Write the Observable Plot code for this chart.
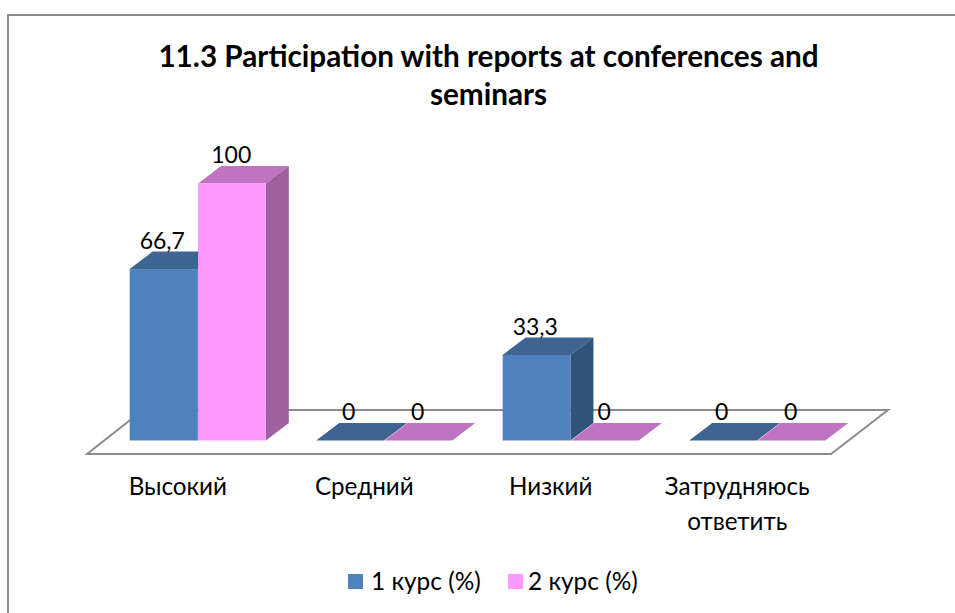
<!DOCTYPE html>
<html lang="ru">
<head>
<meta charset="utf-8">
<script src="https://cdn.jsdelivr.net/npm/d3@7"></script>
<script src="https://cdn.jsdelivr.net/npm/@observablehq/plot@0.6"></script>
<style>
  html, body { margin: 0; padding: 0; background: #fff; width: 955px; height: 613px; overflow: hidden; font-family: Lato, "Open Sans", sans-serif; color: #000; }
  #frame { position: absolute; left: 7px; top: 14px; width: 948px; height: 599px; border-left: 2px solid #8c8c8c; border-top: 2px solid #8c8c8c; box-sizing: border-box; }
  #title { position: absolute; left: 0; top: 37px; width: 977px; text-align: center; font-weight: 700; font-size: 29.7px; line-height: 38px; }
  #chart { position: absolute; left: 0; top: 115px; }
  #legend { position: absolute; left: 0; top: 566px; width: 955px; font-size: 24.4px; line-height: 30px; }
  .item { position: absolute; top: 0; white-space: nowrap; }
  .swatch { position: absolute; top: 8px; width: 15px; height: 15px; }
</style>
</head>
<body>
<div id="frame"></div>
<div id="title">11.3 Participation with reports at conferences and<br>seminars</div>
<div id="chart"></div>
<div id="legend"></div>
<script>
const categories = ["Высокий", "Средний", "Низкий", "Затрудняюсь\nответить"];
const course1 = [66.7, 0, 33.3, 0];
const course2 = [100, 0, 0, 0];
const seriesNames = ["1 курс (%)", "2 курс (%)"];
const seriesColors = ["#4F81BD", "#FF99FF"];
const topColors = ["#3E6591", "#C073C0"];
const sideColors = ["#305379", "#A060A0"];

const rows1 = categories.map((c, i) => ({cat: c, value: course1[i]}));
const rows2 = categories.map((c, i) => ({cat: c, value: course2[i]}));
const depthX = 23, depthY = 17.5;
const ns = "http://www.w3.org/2000/svg";

function poly(parent, pts, fill, stroke) {
  const p = document.createElementNS(ns, "polygon");
  p.setAttribute("points", pts.map(q => q.join(",")).join(" "));
  p.setAttribute("fill", fill);
  if (stroke) { p.setAttribute("stroke", stroke); p.setAttribute("stroke-width", 1); }
  parent.appendChild(p);
}

// Adds the top and side faces of a 3D column to each bar the library has placed.
function prism(top, side) {
  return function (index, scales, values, dimensions, context, next) {
    const g = next(index, scales, values, dimensions, context);
    const extra = document.createElementNS(ns, "g");
    g.querySelectorAll("rect").forEach(r => {
      const x = +r.getAttribute("x"), y = +r.getAttribute("y");
      const w = +r.getAttribute("width"), h = +r.getAttribute("height");
      poly(extra, [[x, y], [x + w, y], [x + w + depthX, y - depthY], [x + depthX, y - depthY]], top);
      if (h > 0) poly(extra, [[x + w, y], [x + w + depthX, y - depthY], [x + w + depthX, y + h - depthY], [x + w, y + h]], side);
    });
    g.insertBefore(extra, g.firstChild);
    return g;
  };
}

// The floor of the 3D plot, spanning the x frame around the zero line.
function floor(index, scales, values, dimensions) {
  const g = document.createElementNS(ns, "g");
  const x1 = dimensions.marginLeft, x2 = dimensions.width - dimensions.marginRight;
  const y0 = scales.y(0);
  const p = [[x1 - 17.5, y0 + 13.5], [x2 - 19.5, y0 + 13.5], [x2 + 37.5, y0 - 30.5], [x1 + 38.5, y0 - 30.5]];
  poly(g, p, "#fff", "#8c8c8c");
  g.firstChild.setAttribute("stroke-width", 2);
  return g;
}

const fmt = d => String(d.value).replace(".", ",");
const half = 68.4;

const plot = Plot.plot({
  width: 955,
  height: 440,
  marginLeft: 104.5,
  marginRight: 104.5,
  marginTop: 68.5,
  marginBottom: 114.5,
  style: {background: "transparent", fontFamily: "Lato, 'Open Sans', sans-serif", overflow: "visible"},
  x: {domain: categories, paddingInner: 0.27, paddingOuter: 0.135, round: false, label: null},
  y: {domain: [0, 100], axis: null, label: null},
  marks: [
    Plot.ruleY([0], {render: floor}),
    Plot.barY(rows1, {x: "cat", y: "value", fill: seriesColors[0], insetRight: half, render: prism(topColors[0], sideColors[0])}),
    Plot.barY(rows2, {x: "cat", y: "value", fill: seriesColors[1], insetLeft: half, render: prism(topColors[1], sideColors[1])}),
    Plot.text(rows1, {x: "cat", y: "value", text: fmt, dx: -36, dy: -28, fontSize: 23, fill: "#000"}),
    Plot.text(rows2, {x: "cat", y: "value", text: fmt, dx: 33, dy: -28, fontSize: 23, fill: "#000"}),
    Plot.axisX({anchor: "bottom", tickSize: 0, tickPadding: 30, dx: -20.5, fontSize: 24.2, lineHeight: 1.42, label: null, fill: "#000", lineWidth: Infinity})
  ]
});
document.getElementById("chart").appendChild(plot);

const legend = document.getElementById("legend");
const legendX = [[348, 371], [508, 528]];
seriesNames.forEach((name, i) => {
  const s = document.createElement("span");
  s.className = "swatch";
  s.style.left = legendX[i][0] + "px";
  s.style.background = seriesColors[i];
  const t = document.createElement("span");
  t.className = "item";
  t.style.left = legendX[i][1] + "px";
  t.textContent = name;
  legend.append(s, t);
});
</script>
</body>
</html>
